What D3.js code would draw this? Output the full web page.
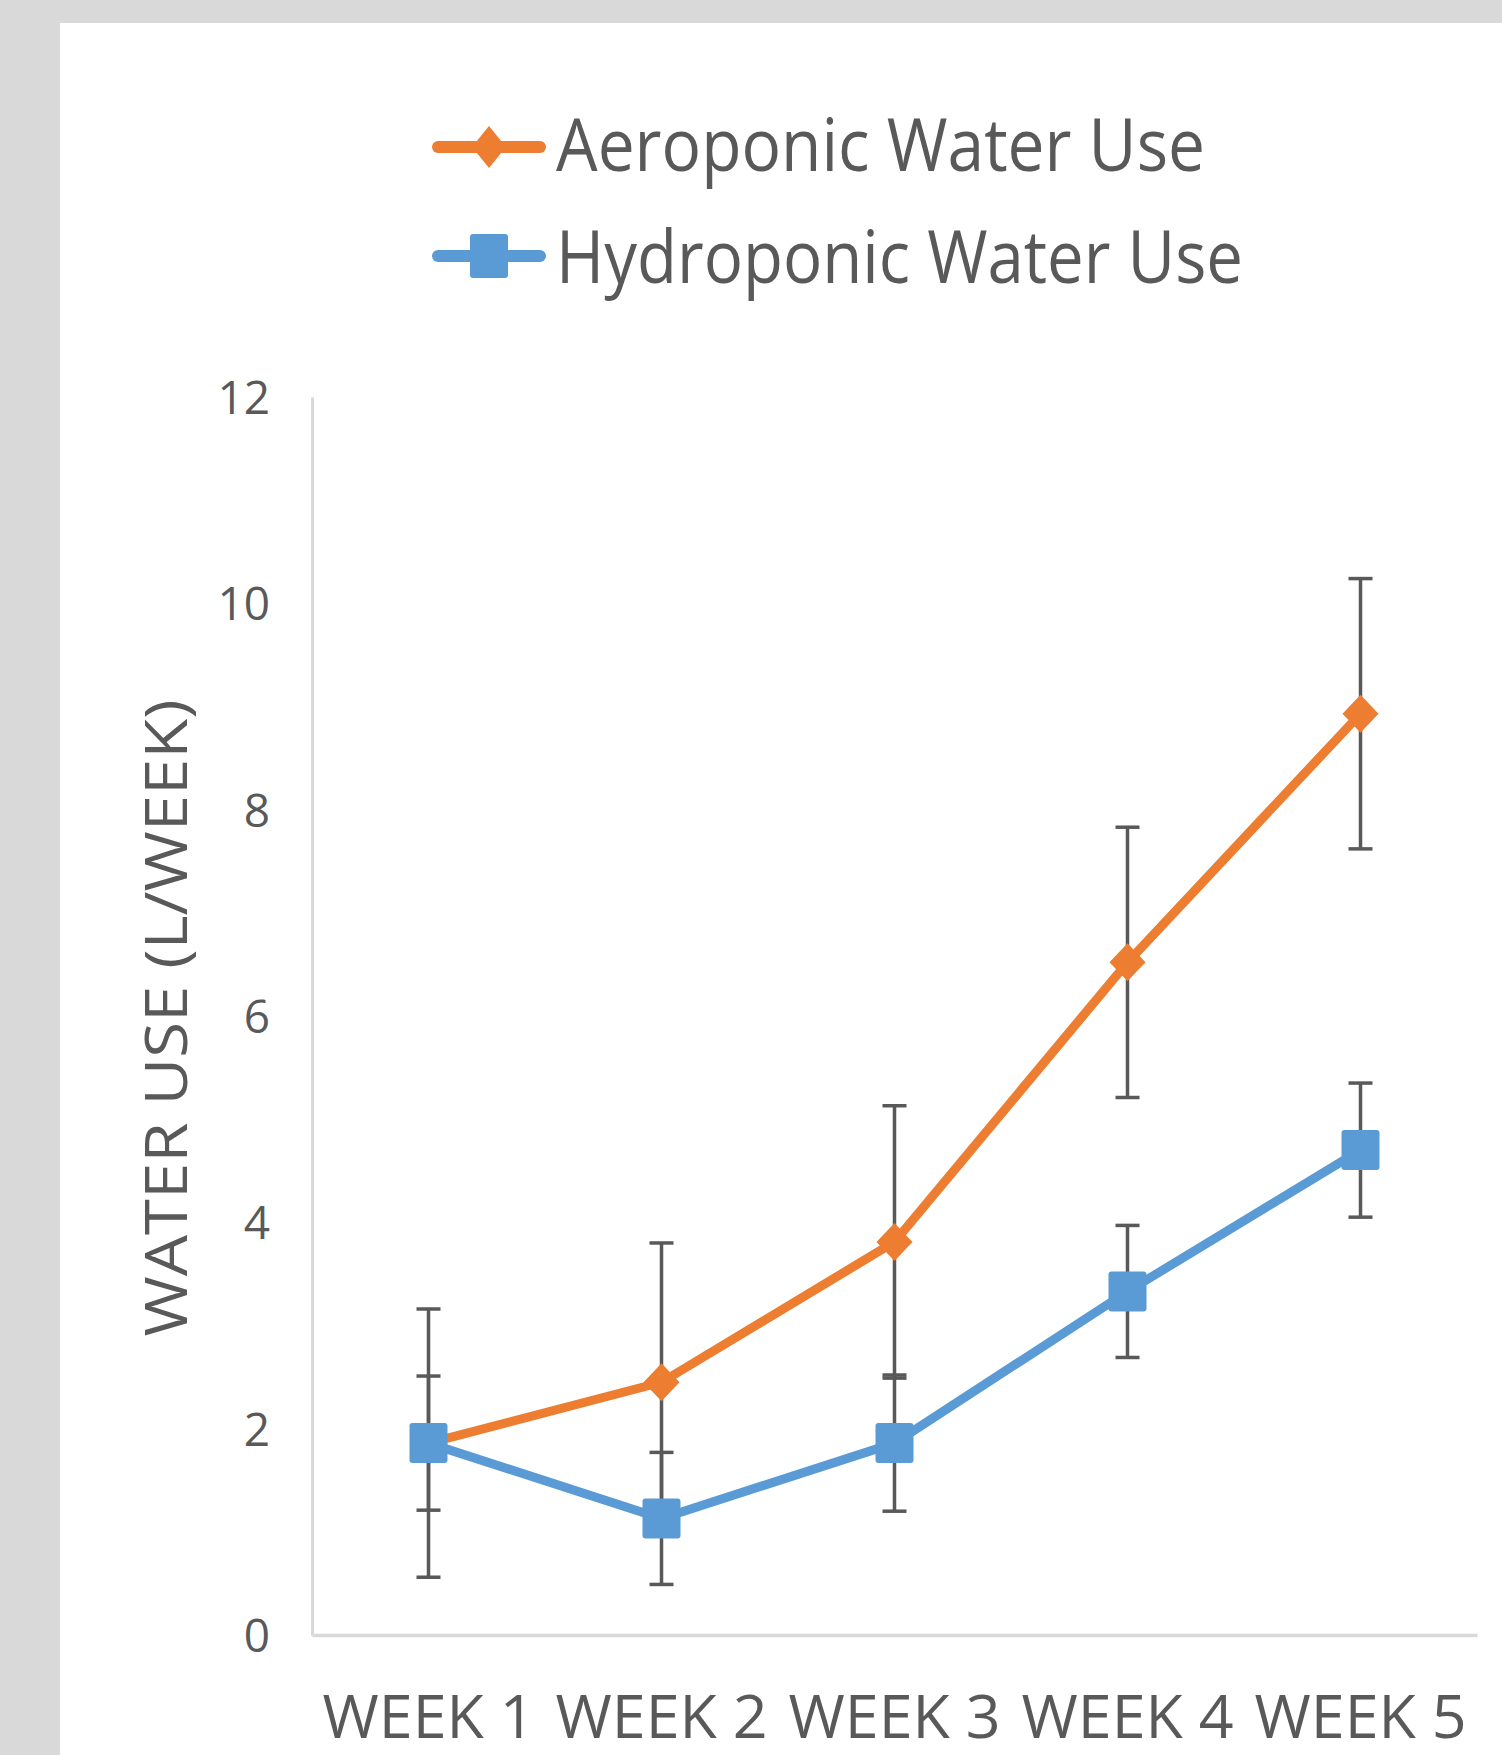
<!DOCTYPE html>
<html>
<head>
<meta charset="utf-8">
<script src="https://cdn.jsdelivr.net/npm/d3@7"></script>
<style>
  html, body { margin: 0; padding: 0; background: #d9d9d9; }
  svg { display: block; }
  text { font-family: "Open Sans", "Noto Sans", sans-serif; fill: #595959; }
</style>
</head>
<body>
<div id="chart"></div>
<script>
const weeks = ["WEEK 1", "WEEK 2", "WEEK 3", "WEEK 4", "WEEK 5"];
const aeroponic = [1.86, 2.45, 3.81, 6.52, 8.93];
const aeroponicErr = [1.30, 1.35, 1.32, 1.31, 1.31];
const hydroponic = [1.86, 1.13, 1.86, 3.33, 4.70];
const hydroponicErr = [0.65, 0.64, 0.66, 0.64, 0.65];
const yTicks = [0, 2, 4, 6, 8, 10, 12];

const ctx = {
    W: 1502,
    H: 1755,
    plot: { left: 312, right: 1477, top: 397, bottom: 1635 },
    orange: "#ed7d31",
    blue: "#5b9bd5",
    errColor: "#595959",
    axisColor: "#d9d9d9",
};

function drawLegend(svgEl) {
    const items = [
        { label: "Aeroponic Water Use", color: ctx.orange, shape: "diamond", y: 147, base: 171, len: 649 },
        { label: "Hydroponic Water Use", color: ctx.blue, shape: "square", y: 256, base: 283, len: 687 },
    ];
    const g = svgEl.append("g").attr("class", "legend");
    items.forEach((it) => {
        g.append("line")
            .attr("x1", 438).attr("x2", 540)
            .attr("y1", it.y).attr("y2", it.y)
            .attr("stroke", it.color)
            .attr("stroke-width", 12)
            .attr("stroke-linecap", "round");
        if (it.shape === "diamond") {
            g.append("path")
                .attr("d", `M489,${it.y - 21}L506,${it.y}L489,${it.y + 21}L472,${it.y}Z`)
                .attr("fill", it.color);
        } else {
            g.append("rect")
                .attr("x", 470).attr("y", it.y - 22)
                .attr("width", 38).attr("height", 44)
                .attr("rx", 3)
                .attr("fill", it.color);
        }
        g.append("text")
            .attr("x", 556)
            .attr("y", it.base)
            .attr("textLength", it.len)
            .attr("lengthAdjust", "spacingAndGlyphs")
            .style("font-size", "74px")
            .text(it.label);
    });
}

function drawSeries(g, x, y, values, color, shape) {
    const line = d3.line()
        .x((d, i) => x(weeks[i]) + x.bandwidth() / 2)
        .y((d) => y(d));

    g.append("path")
        .datum(values)
        .attr("d", line)
        .attr("fill", "none")
        .attr("stroke", color)
        .attr("stroke-width", 9)
        .attr("stroke-linejoin", "round");

    const pts = g.append("g")
        .selectAll("g")
        .data(values)
        .join("g")
        .attr("transform", (d, i) => `translate(${x(weeks[i]) + x.bandwidth() / 2},${y(d)})`);

    if (shape === "diamond") {
        pts.append("path")
            .attr("d", "M0,-19L18,0L0,19L-18,0Z")
            .attr("fill", color);
    } else {
        pts.append("rect")
            .attr("x", -19).attr("y", -20)
            .attr("width", 38).attr("height", 40)
            .attr("rx", 3)
            .attr("fill", color);
    }
}

function drawErrorBars(g, x, y, values, errs) {
    const data = values.map((v, i) => ({ week: weeks[i], v, e: errs[i] }));
    const bars = g.append("g")
        .selectAll("g")
        .data(data)
        .join("g")
        .attr("transform", (d) => `translate(${x(d.week) + x.bandwidth() / 2},0)`)
        .attr("stroke", ctx.errColor)
        .attr("stroke-width", 3.5);

    bars.append("line")
        .attr("y1", (d) => y(d.v + d.e))
        .attr("y2", (d) => y(d.v - d.e));
    bars.append("line")
        .attr("x1", -12).attr("x2", 12)
        .attr("y1", (d) => y(d.v + d.e))
        .attr("y2", (d) => y(d.v + d.e));
    bars.append("line")
        .attr("x1", -12).attr("x2", 12)
        .attr("y1", (d) => y(d.v - d.e))
        .attr("y2", (d) => y(d.v - d.e));
}

function createViz() {
    const svgEl = d3.select("#chart")
        .append("svg")
        .attr("width", ctx.W)
        .attr("height", ctx.H);

    svgEl.append("rect")
        .attr("x", 0).attr("y", 0)
        .attr("width", ctx.W).attr("height", ctx.H)
        .attr("fill", "#d9d9d9");
    svgEl.append("rect")
        .attr("x", 60).attr("y", 23)
        .attr("width", ctx.W - 60).attr("height", ctx.H - 23)
        .attr("fill", "#ffffff");

    const p = ctx.plot;
    const x = d3.scaleBand().domain(weeks).range([p.left, p.right]);
    const y = d3.scaleLinear().domain([0, 12]).range([p.bottom, p.top]);

    // y axis
    const yAxis = svgEl.append("g")
        .attr("transform", `translate(${p.left},0)`)
        .call(d3.axisLeft(y).tickValues(yTicks).tickSize(0).tickPadding(42));
    yAxis.select(".domain").attr("stroke", ctx.axisColor).attr("stroke-width", 3);
    yAxis.selectAll("text")
        .style("font-size", "46px")
        .attr("fill", "#595959")
        .attr("dy", "0.36em");

    // x axis
    const xAxis = svgEl.append("g")
        .attr("transform", `translate(0,${p.bottom})`)
        .call(d3.axisBottom(x).tickSize(0).tickPadding(0));
    xAxis.select(".domain").attr("stroke", ctx.axisColor).attr("stroke-width", 3.5);
    xAxis.selectAll("text")
        .style("font-size", "60px")
        .attr("fill", "#595959")
        .attr("y", 103)
        .attr("dy", 0)
        .attr("textLength", 212)
        .attr("lengthAdjust", "spacingAndGlyphs");

    // y title
    svgEl.append("text")
        .attr("transform", "translate(187,1018) rotate(-90)")
        .attr("text-anchor", "middle")
        .attr("textLength", 637)
        .attr("lengthAdjust", "spacingAndGlyphs")
        .style("font-size", "59px")
        .text("WATER USE (L/WEEK)");

    const g = svgEl.append("g");
    drawErrorBars(g, x, y, aeroponic, aeroponicErr);
    drawErrorBars(g, x, y, hydroponic, hydroponicErr);
    drawSeries(g, x, y, aeroponic, ctx.orange, "diamond");
    drawSeries(g, x, y, hydroponic, ctx.blue, "square");

    drawLegend(svgEl);
}

createViz();
</script>
</body>
</html>
